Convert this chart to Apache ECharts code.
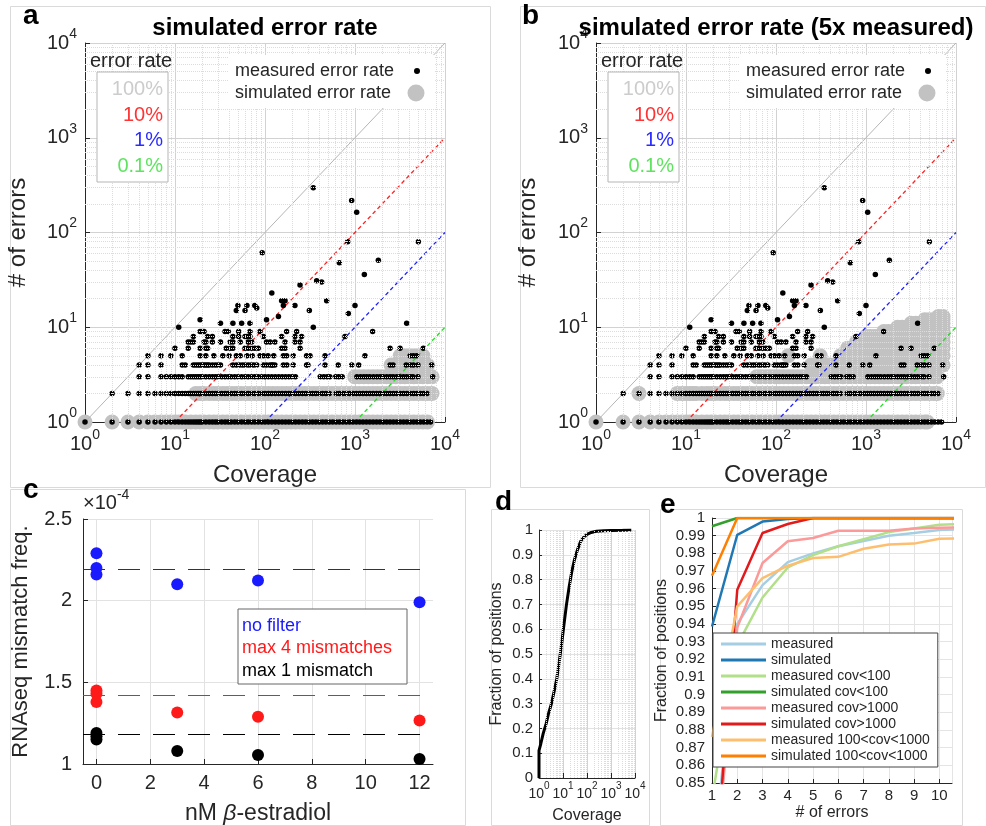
<!DOCTYPE html>
<html>
<head>
<meta charset="utf-8">
<script src="https://cdn.jsdelivr.net/npm/echarts@6/dist/echarts.min.js"></script>
<style>
  html, body { margin: 0; background: #fff; }
  #main { width: 986px; height: 826px; }
</style>
</head>
<body>
<div id="main"></div>
<script>
var FONT = '"Liberation Sans", Arial, Helvetica, sans-serif';
var INK = '#262626';

// ---- panels a / b : coverage of every position, grouped by its number of errors ----
var measuredE1 = [1,2,3,4,5,6,7,8,9,10,11,12,13,14,15,16,17,18,19,20,22,24,26,28,30,33,36,39,42,46,50,55,60,65,71,77,84,92,100,109,119,130,142,155,169,184,200,218,238,260,283,309,337,367,400,436,475,518,565,616,671,732,798,870,948,1034,1127,1228,1339,1460,1591,1735,1891,2061,2247,2449,2670,2910,3172,3458,3769,4108,4478,4881,5320,5800,6322,6900];
var measuredE2 = [2,3,4,5,6,7,8,9,10,11,12,13,14,15,16,17,18,19,20,22,24,26,28,30,33,36,39,42,46,50,55,60,65,71,77,84,92,100,109,119,130,142,155,169,184,200,218,238,260,283,309,337,367,400,436,475,518,616,671,732,798,870,948,1034,1127,1228,1339,1460,1591,1735,1891,2061,2247,2449,2670,2910,3172,3458,3769,4108,4478,4881,5320,5800,6300];
var measuredE3 = [4,5,7,8,9,10,11,12,14,15,16,17,18,19,20,22,24,26,28,30,33,36,39,42,46,50,55,60,65,71,77,84,92,100,109,119,130,142,155,169,184,200,218,410,450,490,525,610,660,720,1050,1150,1250,1350,1460,1600,1750,1900,2050,2250,2450,2650,2900,3150,3450,3750,4100,4400,5000,7300];
var measuredE4 = [4,5,7,12,13,16,17,18,19,20,21,22,23,24,26,28,30,32,44,48,52,56,60,65,70,75,81,96,104,113,119,122,129,160,175,206,290,300,465,650,920,1100,2450,2650,3700,4100,4450,5000,7100];
var measuredE5 = [5,7,9,12,19,22,27,34,40,48,53,63,72,88,96,108,125,160,174,206,290,316,465,1291,4100,4450,4842];
var measuredE6 = [10,14,19,22,23,37,41,44,60,65,71,77,84,153,167,245,2448,3162,5741];
var measuredE7 = [14,15,16,21,22,26,32,41,44,53,65,71,104,114,129,167,215,245];
var measuredE8 = [16,23,26,44,51,60,63,68,96,153,215,255,774];
var measuredE9 = [19,20,21,36,39,51,68,88,174,225,1571];
var measuredE10 = [11,344];
// [coverage, errors] for the sparse points above 10 errors
var measuredHigh = [[32,11],[44,11],[55,11],[68,11],[3750,11],[19,12],[104,12],[141,13],[843,14],[48,15],[60,15],[311,15],[81,16],[50,17],[63,17],[77,17],[160,17],[215,17],[1000,17],[153,19],[167,19],[484,19],[119,23],[245,28],[375,31],[426,30],[1270,36],[670,48],[1816,51],[93,61],[829,80],[5054,80],[1044,164],[918,218],[344,296]];

// simulated, measured error rate (panel a)
var simAE1 = [1,2,3,4,5,6,7,8,9,10,11,12,13,15,17,19,21,24,27,30,34,38,43,48,54,61,68,77,86,97,109,122,137,154,173,195,219,246,276,310,349,392,440,494,555,624,700,787,884,993,1115,1253,1408,1581,1776,1995,2241,2518,2828,3177,3569,4009,4503,5059,5683,6384];
var simAE2 = [17,19,21,24,27,30,34,38,43,48,54,61,68,77,86,97,109,122,137,154,173,195,219,246,276,310,349,392,440,494,555,624,700,787,884,993,1115,1253,1408,1581,1776,1995,2241,2518,2828,3177,3569,4009,4503,5059,5683,6384,7171];
var simAE3 = [993,1115,1253,1408,1581,1776,1995,2241,2518,2828,3177,3569,4009,4503,5059,5683,6384,7171];
var simAE4 = [2518,2828,3177,3569,4009,4503,5059,5683,6384];
var simAE5 = [3177,3569,4009,4503,5059,5683];

// simulated, 5x measured error rate (panel b)
var simBE1 = [1,2,3,4,5,6,7,8,9,10,11,12,13,15,17,19,21,24,27,30,34,38,43,48,54,61,68,77,86,97,109,122,137,154,173,195,219,246,276,310,349,392,440,494,555,624,700,787,884,993,1115,1253,1408,1581,1776,1995,2241,2518,2828,3177,3569,4009,4503,4800];
var simBE2 = [3,8,9,10,11,12,13,15,17,19,21,24,27,30,34,38,43,48,54,61,68,77,86,97,109,122,137,154,173,195,219,246,276,310,349,392,440,494,555,624,700,787,884,993,1115,1253,1408,1581,1776,1995,2241,2518,2828,3177,3569,4009,4503,5059,5683,6200];
var simBE3 = [61,68,77,86,97,109,122,137,154,173,195,219,246,276,310,349,392,440,494,555,624,700,787,884,993,1115,1253,1408,1581,1776,1995,2241,2518,2828,3177,3569,4009,4503,5059,5683,6200];
var simBE4 = [246,276,310,349,392,440,494,555,624,700,787,884,993,1115,1253,1408,1581,1776,1995,2241,2518,2828,3177,3569,4009,4503,5059,5683,6384,7171];
var simBE5 = [137,310,520,624,700,787,884,993,1115,1253,1408,1581,1776,1995,2241,2518,2828,3177,3569,4009,4503,5059,5683,6384,7171];
var simBE6 = [624,700,787,884,993,1115,1253,1408,1581,1776,1995,2241,2518,2828,3177,3569,4009,4503,5059,5683,6384,7171];
var simBE7 = [787,884,993,1115,1253,1408,1581,1776,1995,2241,2518,2828,3177,3569,4009,4503,5059,5683,6384,7171];
var simBE8 = [993,1115,1253,1408,1581,1776,1995,2241,2518,2828,3177,3569,4009,4503,5059,5683,6384,7171];
var simBE9 = [1581,1776,1995,2241,2518,2828,3177,3569,4009,4503,5059,5683,6384,7171];
var simBE10 = [2241,2518,2828,3177,3569,4009,4503,5059,5683,6384,7171];
var simBE11 = [3177,3569,4009,4503,5059,5683,6384,7171];
var simBE12 = [4503,5059,5683,6384,7171];
var simBE13 = [6384,7171];

// error-rate reference lines: errors = rate * coverage
var rateLabels = ['100%', '10%', '1%', '0.1%'];
var rateStartCoverage = [1, 10, 100, 1000];
var rateEndErrors = [10000, 1000, 100, 10];
var rateColors = ['#b5b5b5', '#ff2020', '#2020ff', '#22dd22'];
var rateTextColors = ['#cccccc', '#ff3333', '#2b2bff', '#5fe35f'];

// ---- panel c ----
var cTicks = [0, 2, 4, 6, 8, 10, 12];
var cDose = [0, 0, 0, 3, 6, 12];
var cNoFilter = [2.29, 2.20, 2.16, 2.10, 2.124, 1.99];
var cMax4 = [1.45, 1.43, 1.38, 1.315, 1.29, 1.266];
var cMax1 = [1.19, 1.17, 1.15, 1.08, 1.055, 1.03];
var cBaseline = [2.19, 1.42, 1.18];
var cNames = ['no filter', 'max 4 mismatches', 'max 1 mismatch'];
var cColors = ['#1a1aff', '#ff1a1a', '#000000'];

// ---- panel d ----
var dCoverage = [1, 1, 1.2, 1.5, 2, 2.5, 3.3, 4.3, 5.5, 7, 9, 11, 14, 18, 23, 30, 40, 55, 75, 100, 150, 250, 500, 1000, 3000, 7000];
var dFraction = [0, 0.11, 0.14, 0.18, 0.22, 0.26, 0.30, 0.35, 0.40, 0.47, 0.55, 0.62, 0.70, 0.77, 0.83, 0.88, 0.92, 0.955, 0.972, 0.982, 0.99, 0.995, 0.997, 0.998, 0.999, 1.0];

// ---- panel e ----
var eErrors = [1, 2, 3, 4, 5, 6, 7, 8, 9, 10, 11];
var eMeasured     = [0.80, 0.940, 0.962, 0.975, 0.980, 0.984, 0.987, 0.990, 0.9915, 0.9932, 0.9936];
var eSimulated    = [0.9386, 0.9905, 0.998, 0.9995, 1, 1, 1, 1, 1, 1, 1];
var eMeasuredLow  = [0.841, 0.928, 0.955, 0.972, 0.979, 0.984, 0.988, 0.992, 0.994, 0.9962, 0.9966];
var eSimulatedLow = [0.9953, 1, 1, 1, 1, 1, 1, 1, 1, 1, 1];
var eMeasuredHigh = [0.78, 0.938, 0.9745, 0.9868, 0.9887, 0.9928, 0.9928, 0.9928, 0.994, 0.9945, 0.9946];
var eSimulatedHigh= [0.777, 0.9594, 0.9915, 0.9966, 1, 1, 1, 1, 1, 1, 1];
var eMeasuredMid  = [0.876, 0.950, 0.966, 0.973, 0.9773, 0.978, 0.9826, 0.985, 0.9855, 0.9883, 0.9885];
var eSimulatedMid = [0.9673, 1, 1, 1, 1, 1, 1, 1, 1, 1, 1];
var eNames = ['measured', 'simulated', 'measured cov<100', 'simulated cov<100', 'measured cov>1000', 'simulated cov>1000', 'measured 100<cov<1000', 'simulated 100<cov<1000'];
var eSeries = [eMeasured, eSimulated, eMeasuredLow, eSimulatedLow, eMeasuredHigh, eSimulatedHigh, eMeasuredMid, eSimulatedMid];
var eColors = ['#a6cee3', '#1f78b4', '#b2df8a', '#33a02c', '#fb9a99', '#e31a1c', '#fdbf6f', '#ff7f00'];

function rowsToPoints(rows) {
  var pts = [];
  rows.forEach(function (row, i) {
    row.forEach(function (cov) { pts.push([cov, i + 1]); });
  });
  return pts;
}
var measuredPoints = rowsToPoints([measuredE1, measuredE2, measuredE3, measuredE4, measuredE5,
  measuredE6, measuredE7, measuredE8, measuredE9, measuredE10]).concat(measuredHigh);
var simPointsA = rowsToPoints([simAE1, simAE2, simAE3, simAE4, simAE5]);
var simPointsB = rowsToPoints([simBE1, simBE2, simBE3, simBE4, simBE5, simBE6, simBE7,
  simBE8, simBE9, simBE10, simBE11, simBE12, simBE13]);

// minor log grid positions 2..9 x 10^k
var minorLog = [];
for (var k = 0; k < 4; k++) {
  for (var m = 2; m < 10; m++) minorLog.push(m * Math.pow(10, k));
}

function powLabel(size, sup, margin) {
  return {
    margin: margin,
    formatter: function (v) { return '{b|10}{s|' + Math.round(Math.log10(v)) + '}'; },
    rich: {
      b: { fontSize: size, fontFamily: FONT, color: INK, lineHeight: size + 12 },
      s: { fontSize: sup, fontFamily: FONT, color: INK, lineHeight: sup, verticalAlign: 'top' }
    }
  };
}

function nameStyle(size) {
  return { fontSize: size, fontFamily: FONT, color: INK };
}

function logAxis(gi, name, nameGap, nameSize, size, sup, margin) {
  return {
    gridIndex: gi, type: 'log', logBase: 10, min: 1, max: 10000, splitNumber: 4,
    name: name, nameLocation: 'middle', nameGap: nameGap, nameTextStyle: nameStyle(nameSize),
    axisLine: { onZero: false, lineStyle: { color: INK } },
    axisTick: { inside: true, length: 5, lineStyle: { color: INK } },
    axisLabel: powLabel(size, sup, margin),
    splitLine: { show: true, lineStyle: { color: '#d2d2d2' } }
  };
}

function minorGridSeries(gi, withY) {
  var lines = minorLog.map(function (v) { return { xAxis: v }; });
  if (withY) lines = lines.concat(minorLog.map(function (v) { return { yAxis: v }; }));
  return {
    type: 'line', xAxisIndex: gi, yAxisIndex: gi, data: [], silent: true, z: 1,
    markLine: {
      silent: true, symbol: ['none', 'none'], label: { show: false }, animation: false,
      lineStyle: { color: '#dcdcdc', type: 'dotted', width: 1 },
      data: lines
    }
  };
}

function errorPanelSeries(gi, simPoints) {
  var list = [minorGridSeries(gi, true)];
  list.push({
    type: 'scatter', name: 'simulated error rate', xAxisIndex: gi, yAxisIndex: gi,
    data: simPoints, symbol: 'circle', symbolSize: 15,
    itemStyle: { color: '#c2c2c2', opacity: 1, borderWidth: 0 }, z: 2, clip: false, silent: true
  });
  rateLabels.forEach(function (label, i) {
    list.push({
      type: 'line', name: label, xAxisIndex: gi, yAxisIndex: gi, silent: true, z: 3,
      data: [[rateStartCoverage[i], 1], [10000, rateEndErrors[i]]],
      symbol: 'none',
      lineStyle: { color: rateColors[i], width: i === 0 ? 1 : 1.3, type: i === 0 ? 'solid' : [4, 3] }
    });
  });
  list.push({
    type: 'scatter', name: 'measured error rate', xAxisIndex: gi, yAxisIndex: gi,
    data: measuredPoints, symbol: 'circle', symbolSize: 5.5,
    itemStyle: { color: '#000', opacity: 1, borderWidth: 0 }, z: 4, clip: false, silent: true
  });
  return list;
}

function text(str, x, y, size, color, align, extra) {
  var st = {
    text: str, x: x, y: y, fill: color || INK,
    font: (extra && extra.bold ? 'bold ' : '') + size + 'px ' + FONT,
    align: align || 'left', textAlign: align || 'left',
    verticalAlign: 'middle', textVerticalAlign: 'middle'
  };
  if (extra && extra.rich) st.rich = extra.rich;
  return { type: 'text', z: 100, style: st };
}

function errorLegend(dx) {
  var els = [];
  els.push({ type: 'rect', z: 99, shape: { x: 97 + dx, y: 72, width: 71, height: 110 },
    style: { fill: '#fff', stroke: '#b5b5b5', lineWidth: 1 } });
  els.push(text('error rate', 90 + dx, 61, 20));
  var ys = [89, 115, 140, 166];
  rateLabels.forEach(function (label, i) {
    els.push(text(label, 163 + dx, ys[i], 20, rateTextColors[i], 'right'));
  });
  els.push({ type: 'rect', z: 99, shape: { x: 228 + dx, y: 55, width: 206, height: 53 },
    style: { fill: '#fff' } });
  els.push(text('measured error rate', 235 + dx, 71, 18));
  els.push(text('simulated error rate', 235 + dx, 93, 18));
  els.push({ type: 'circle', z: 100, shape: { cx: 417 + dx, cy: 71, r: 3 }, style: { fill: '#000' } });
  els.push({ type: 'circle', z: 100, shape: { cx: 416 + dx, cy: 93, r: 8.5 }, style: { fill: '#c2c2c2' } });
  return els;
}

function frame(x, y, w, h) {
  return { type: 'rect', z: 0, shape: { x: x + 0.5, y: y + 0.5, width: w, height: h },
    style: { fill: 'none', stroke: '#dadada', lineWidth: 1 } };
}

var series = [];
series = series.concat(errorPanelSeries(0, simPointsA));
series = series.concat(errorPanelSeries(1, simPointsB));

// panel c
[cNoFilter, cMax4, cMax1].forEach(function (vals, i) {
  series.push({
    type: 'scatter', name: cNames[i], xAxisIndex: 2, yAxisIndex: 2, clip: false,
    data: cDose.map(function (d, j) { return [d, vals[j]]; }),
    symbol: 'circle', symbolSize: 12, itemStyle: { color: cColors[i], opacity: 1, borderWidth: 0 }, z: 3,
    markLine: {
      silent: true, symbol: ['none', 'none'], label: { show: false }, animation: false,
      lineStyle: { color: cColors[i], type: [22, 13], width: 1 },
      data: [{ yAxis: cBaseline[i] }]
    }
  });
});

// panel d
series.push(minorGridSeries(3, false));
series.push({
  type: 'line', xAxisIndex: 3, yAxisIndex: 3, symbol: 'none', z: 3,
  data: dCoverage.map(function (c, i) { return [c, dFraction[i]]; }),
  lineStyle: { color: '#000', width: 3 }
});

// panel e
eSeries.forEach(function (vals, i) {
  series.push({
    type: 'line', name: eNames[i], xAxisIndex: 4, yAxisIndex: 4, symbol: 'none', z: 3 + i * 0.01,
    data: eErrors.map(function (x, j) { return [x, vals[j]]; }),
    lineStyle: { color: eColors[i], width: 2.5 }, itemStyle: { color: eColors[i] }
  });
});

var graphics = [
  frame(10, 6, 480, 481), frame(520, 6, 465, 481),
  frame(10, 489, 455, 336), frame(491, 509, 158, 316), frame(660, 509, 302, 316),
  text('simulated error rate', 265, 28, 24, '#000', 'center', { bold: true }),
  text('simulated error rate (5x measured)', 776, 28, 24, '#000', 'center', { bold: true }),
  text('a', 23, 16, 28, '#000', 'left', { bold: true }),
  text('b', 522, 16, 28, '#000', 'left', { bold: true }),
  text('c', 23, 490, 28, '#000', 'left', { bold: true }),
  text('d', 495, 502, 28, '#000', 'left', { bold: true }),
  text('e', 660, 505, 28, '#000', 'left', { bold: true }),
  text('{x|×10}{s|-4}', 83, 503, 20, INK, 'left', { rich: {
    x: { fontSize: 20, fontFamily: FONT, color: INK, lineHeight: 30 },
    s: { fontSize: 14, fontFamily: FONT, color: INK, lineHeight: 14, verticalAlign: 'top' } } }),
  { type: 'rect', z: 99, shape: { x: 238, y: 609, width: 169, height: 75 },
    style: { fill: '#fff', stroke: '#666', lineWidth: 1 } }
];
cNames.forEach(function (n, i) {
  graphics.push(text(n, 242, 626 + i * 22.5, 18, cColors[i]));
});
graphics = graphics.concat(errorLegend(0), errorLegend(511));

var option = {
  animation: false,
  backgroundColor: '#fff',
  textStyle: { fontFamily: FONT },
  grid: [
    { left: 85, top: 43, width: 360, height: 379, outerBoundsMode: 'none' },
    { left: 596, top: 43, width: 360, height: 379, outerBoundsMode: 'none' },
    { left: 83, top: 519, width: 350, height: 245, outerBoundsMode: 'none' },
    { left: 539, top: 530, width: 96, height: 248, outerBoundsMode: 'none' },
    { left: 712, top: 518, width: 240, height: 265, outerBoundsMode: 'none' }
  ],
  legend: {
    data: eNames, orient: 'vertical', left: 713, top: 633, icon: 'rect',
    itemWidth: 45, itemHeight: 3, itemGap: 2, padding: [4, 8, 4, 8], selectedMode: false,
    backgroundColor: '#fff', borderColor: '#444', borderWidth: 1,
    textStyle: { fontSize: 14, fontFamily: FONT, color: INK, lineHeight: 14 }
  },
  xAxis: [
    logAxis(0, 'Coverage', 41, 24, 20, 14, 6),
    logAxis(1, 'Coverage', 41, 24, 20, 14, 6),
    {
      gridIndex: 2, type: 'value', min: -0.5, max: 12.5,
      name: '{n|nM }{i|β}{n|-estradiol}', nameLocation: 'middle', nameGap: 38,
      nameTextStyle: { rich: {
        n: { fontSize: 23, fontFamily: FONT, color: INK },
        i: { fontSize: 23, fontFamily: FONT, color: INK, fontStyle: 'italic' } } },
      axisLine: { onZero: false, lineStyle: { color: INK } },
      axisTick: { inside: true, length: 5, customValues: cTicks, lineStyle: { color: INK } },
      axisLabel: { customValues: cTicks, fontSize: 20, margin: 9, color: INK },
      splitLine: { show: true, lineStyle: { color: '#e2e2e2' } }
    },
    logAxis(3, 'Coverage', 30, 16, 14, 10, 3),
    {
      gridIndex: 4, type: 'value', min: 1, max: 10.5, interval: 1,
      name: '# of errors', nameLocation: 'middle', nameGap: 22, nameTextStyle: nameStyle(16),
      axisLine: { onZero: false, lineStyle: { color: INK } },
      axisTick: { inside: true, length: 4, lineStyle: { color: INK } },
      axisLabel: { fontSize: 15, margin: 5, color: INK },
      splitLine: { show: true, lineStyle: { color: '#e4e4e4' } }
    }
  ],
  yAxis: [
    logAxis(0, '# of errors', 55, 24, 20, 14, 8),
    logAxis(1, '# of errors', 56, 24, 20, 14, 8),
    {
      gridIndex: 2, type: 'value', min: 1, max: 2.5, interval: 0.5,
      name: 'RNAseq mismatch freq.', nameLocation: 'middle', nameGap: 51, nameTextStyle: nameStyle(22),
      axisLine: { onZero: false, lineStyle: { color: INK } },
      axisTick: { inside: true, length: 5, lineStyle: { color: INK } },
      axisLabel: { fontSize: 20, margin: 11, color: INK },
      splitLine: { show: true, lineStyle: { color: '#e2e2e2' } }
    },
    {
      gridIndex: 3, type: 'value', min: 0, max: 1, interval: 0.1,
      name: 'Fraction of positions', nameLocation: 'middle', nameGap: 34, nameTextStyle: nameStyle(16),
      axisLine: { onZero: false, lineStyle: { color: INK } },
      axisTick: { inside: true, length: 3, lineStyle: { color: INK } },
      axisLabel: { fontSize: 15, margin: 6, color: INK },
      splitLine: { show: true, lineStyle: { color: '#e2e2e2' } }
    },
    {
      gridIndex: 4, type: 'value', min: 0.85, max: 1, interval: 0.01,
      name: 'Fraction of positions', nameLocation: 'middle', nameGap: 42, nameTextStyle: nameStyle(16),
      axisLine: { onZero: false, lineStyle: { color: INK } },
      axisTick: { inside: true, length: 4, lineStyle: { color: INK } },
      axisLabel: { fontSize: 15, margin: 7, color: INK },
      splitLine: { show: true, lineStyle: { color: '#e4e4e4' } }
    }
  ],
  graphic: graphics,
  series: series
};

var chart = echarts.init(document.getElementById('main'));
chart.setOption(option);
</script>
</body>
</html>
